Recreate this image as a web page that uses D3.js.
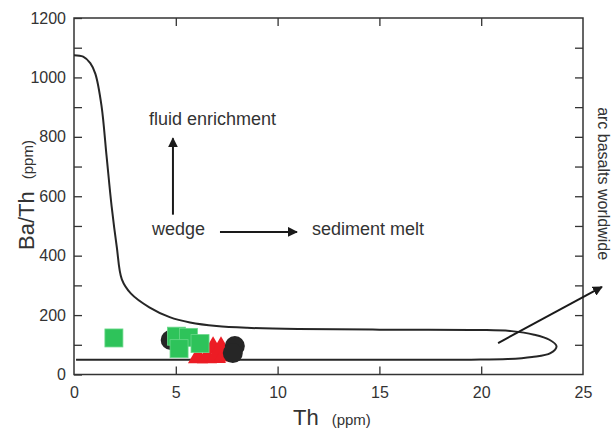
<!DOCTYPE html>
<html>
<head>
<meta charset="utf-8">
<script src="https://cdn.jsdelivr.net/npm/d3@7"></script>
<style>
  body { margin: 0; background: #fff; }
  svg { font-family: Arial, "Liberation Sans", sans-serif; }
  .tick text { fill: #333; font-size: 16px; }
  .tick line { stroke: #333; stroke-width: 1.3; }
  .note { fill: #333; font-size: 18px; }
</style>
</head>
<body>
<div id="chart"></div>
<script>
// axis ticks
var xTicks = [0, 5, 10, 15, 20, 25];
var yTicks = [0, 100, 200, 300, 400, 500, 600, 700, 800, 900, 1000, 1100, 1200];
var yLabels = [0, 200, 400, 600, 800, 1000, 1200];

// arc basalts worldwide envelope (Th, Ba/Th), traced round the loop
var envTh   = [0, 0.45, 0.8, 1.05, 1.35, 1.6, 1.85, 2.1, 2.35, 2.8, 3.7, 4.7, 5.7, 7, 8.5, 11, 15, 19.9, 21.5, 22.6, 23.35, 23.7, 23.4, 22.5, 21.3, 19.5, 15, 10, 5, 0.1];
var envBaTh = [1075, 1070, 1048, 1012, 905, 735, 565, 430, 320, 272, 226, 193, 175, 163, 157, 153, 151, 150, 146, 134, 117, 95, 72, 59, 52, 50, 50, 50, 50, 50];

// samples
var squareTh   = [1.96, 5.03, 5.62, 5.16, 6.19];
var squareBaTh = [123, 129, 125, 87, 104];
var triTh   = [6.09, 6.53, 6.97, 7.37, 6.83, 7.22];
var triBaTh = [57, 57, 58, 63, 90, 90];
var circleTh   = [4.75, 7.9, 7.8];
var circleBaTh = [116, 96, 72];

var width = 612, height = 430;
var margin = {top: 18, right: 29, bottom: 55.5, left: 74};
var plotW = width - margin.left - margin.right;
var plotH = height - margin.top - margin.bottom;

var svg = d3.select("#chart").append("svg")
    .attr("width", width)
    .attr("height", height);

var x = d3.scaleLinear().domain([0, 25]).range([margin.left, margin.left + plotW]);
var y = d3.scaleLinear().domain([0, 1200]).range([margin.top + plotH, margin.top]);

// axes, ticks point inward
svg.append("g")
    .attr("transform", "translate(" + margin.left + ",0)")
    .call(d3.axisLeft(y).tickValues(yTicks).tickSizeInner(-8).tickSizeOuter(0).tickPadding(8)
        .tickFormat(function(d){ return yLabels.indexOf(d) >= 0 ? d : ""; }))
    .call(function(g){ g.select(".domain").remove(); });

svg.append("g")
    .attr("transform", "translate(" + (margin.left + plotW) + ",0)")
    .call(d3.axisRight(y).tickValues(yTicks.slice(1, -1)).tickSizeInner(-8).tickSizeOuter(0).tickFormat(""))
    .call(function(g){ g.select(".domain").remove(); });

svg.append("g")
    .attr("transform", "translate(0," + (margin.top + plotH) + ")")
    .call(d3.axisBottom(x).tickValues(xTicks).tickSizeInner(-8).tickSizeOuter(0).tickPadding(12))
    .call(function(g){
        g.select(".domain").remove();
        g.selectAll(".tick line").filter(function(d){ return d == 0 || d == 25; }).remove();
    });

svg.append("g")
    .attr("transform", "translate(0," + margin.top + ")")
    .call(d3.axisTop(x).tickValues(xTicks.slice(1, -1)).tickSizeInner(-8).tickSizeOuter(0).tickFormat(""))
    .call(function(g){ g.select(".domain").remove(); });

svg.append("rect")
    .attr("x", margin.left)
    .attr("y", margin.top)
    .attr("width", plotW)
    .attr("height", plotH)
    .attr("fill", "none")
    .attr("stroke", "#333")
    .attr("stroke-width", 1.5);

// axis titles
var xTitle = svg.append("text")
    .attr("x", 293)
    .attr("y", 425)
    .attr("fill", "#333");
xTitle.append("tspan").attr("font-size", 22).text("Th");
xTitle.append("tspan").attr("font-size", 15).attr("dx", 13).text("(ppm)");

var yTitle = svg.append("text")
    .attr("transform", "translate(34,250) rotate(-90)")
    .attr("fill", "#333");
yTitle.append("tspan").attr("font-size", 22).text("Ba/Th");
yTitle.append("tspan").attr("font-size", 15).attr("dx", 12).attr("dy", -1).text("(ppm)");

// envelope
var env = envTh.map(function(d, i){ return [d, envBaTh[i]]; });
svg.append("path")
    .datum(env)
    .attr("fill", "none")
    .attr("stroke", "#262626")
    .attr("stroke-width", 2)
    .attr("d", d3.line()
        .x(function(d){ return x(d[0]); })
        .y(function(d){ return y(d[1]); })
        .curve(d3.curveCatmullRom.alpha(0.5)));

// sample symbols: red under black under green
svg.append("g").selectAll("path")
    .data(triTh.map(function(d, i){ return [d, triBaTh[i]]; }))
    .enter().append("path")
    .attr("transform", function(d){ return "translate(" + x(d[0]) + "," + y(d[1]) + ")"; })
    .attr("d", d3.symbol().type(d3.symbolTriangle).size(175))
    .attr("fill", "#ec1c24");

svg.append("g").selectAll("circle")
    .data(circleTh.map(function(d, i){ return [d, circleBaTh[i]]; }))
    .enter().append("circle")
    .attr("cx", function(d){ return x(d[0]); })
    .attr("cy", function(d){ return y(d[1]); })
    .attr("r", 10)
    .attr("fill", "#262626");

svg.append("g").selectAll("rect")
    .data(squareTh.map(function(d, i){ return [d, squareBaTh[i]]; }))
    .enter().append("rect")
    .attr("x", function(d){ return x(d[0]) - 9; })
    .attr("y", function(d){ return y(d[1]) - 9; })
    .attr("width", 18)
    .attr("height", 18)
    .attr("fill", "#2ec35a")
    .attr("stroke", "#6bd88a")
    .attr("stroke-width", 0.8);

// annotations
var defs = svg.append("defs");
defs.append("marker")
    .attr("id", "head")
    .attr("viewBox", "0 0 10 10")
    .attr("refX", 9)
    .attr("refY", 5)
    .attr("markerWidth", 5)
    .attr("markerHeight", 5)
    .attr("orient", "auto")
    .append("path")
    .attr("d", "M0,0L10,5L0,10z")
    .attr("fill", "#1a1a1a");

function arrow(x1, y1, x2, y2){
    svg.append("line")
        .attr("x1", x(x1)).attr("y1", y(y1))
        .attr("x2", x(x2)).attr("y2", y(y2))
        .attr("stroke", "#1a1a1a")
        .attr("stroke-width", 2)
        .attr("marker-end", "url(#head)");
}
arrow(4.86, 538, 4.86, 795);
arrow(7.17, 480, 10.95, 480);
arrow(20.83, 106, 25.93, 295);

svg.append("text").attr("class", "note").attr("x", x(3.68)).attr("y", y(840)).text("fluid enrichment");
svg.append("text").attr("class", "note").attr("x", x(3.83)).attr("y", y(469)).text("wedge");
svg.append("text").attr("class", "note").attr("x", x(11.69)).attr("y", y(469)).text("sediment melt");
svg.append("text")
    .attr("class", "note")
    .style("font-size", "16px")
    .attr("transform", "translate(" + x(25.75) + "," + y(900) + ") rotate(90)")
    .text("arc basalts worldwide");
</script>
</body>
</html>
